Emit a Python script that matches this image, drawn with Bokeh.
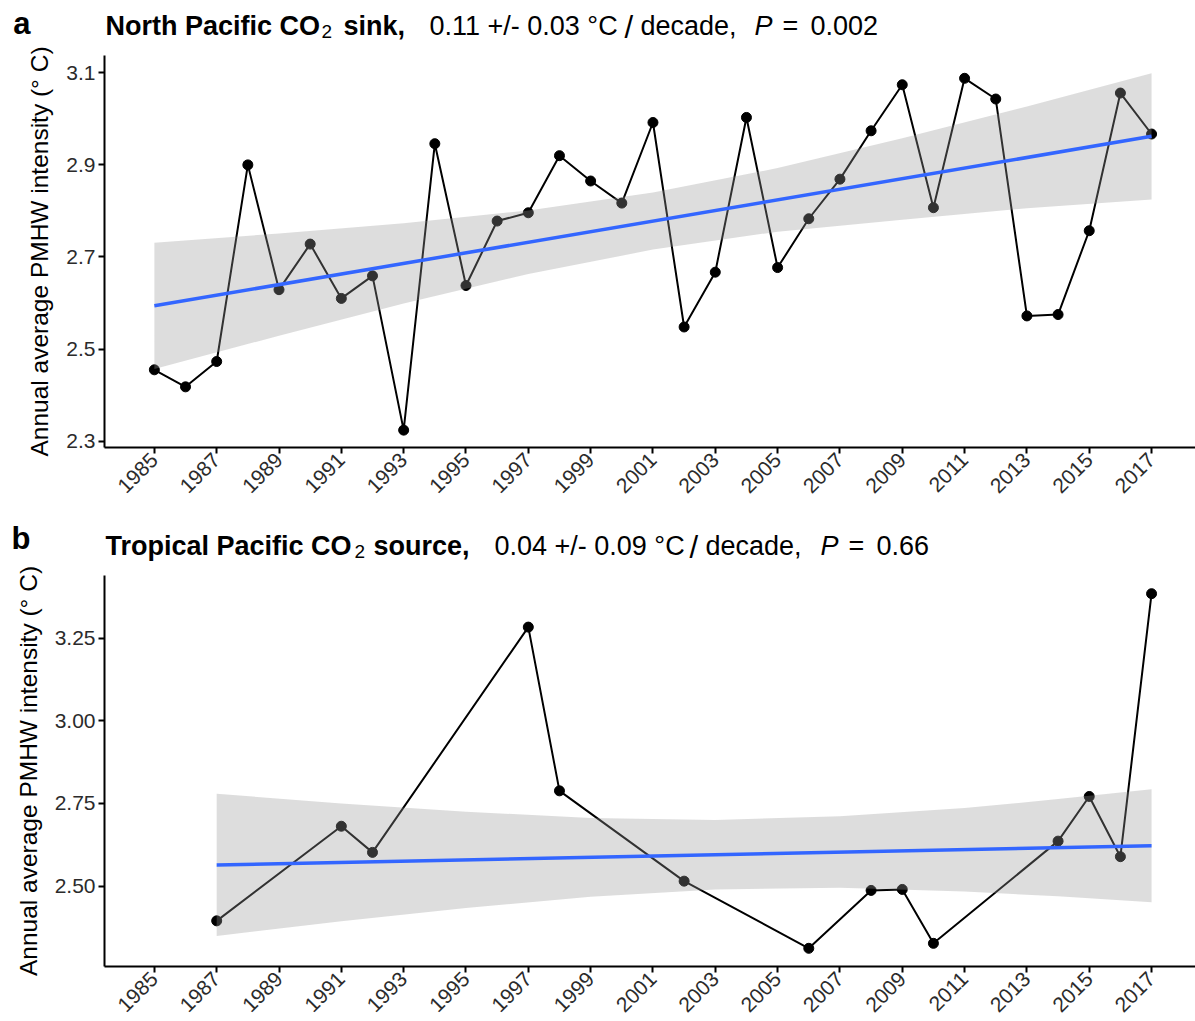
import math
from bokeh.plotting import figure
from bokeh.layouts import column
from bokeh.models import Range1d, FixedTicker, Label
from bokeh.embed import file_html
from bokeh.resources import INLINE

# ---------------- data ----------------
years_a = list(range(1985, 2018))
vals_a = [2.455, 2.418, 2.473, 2.900, 2.629, 2.728, 2.610, 2.659, 2.324, 2.946,
          2.638, 2.778, 2.796, 2.920, 2.865, 2.817, 2.992, 2.548, 2.667, 3.003,
          2.677, 2.783, 2.869, 2.974, 3.074, 2.807, 3.088, 3.043, 2.572, 2.575,
          2.757, 3.056, 2.967]
fit_years_a = [1985, 2017]
fit_vals_a = [2.594, 2.962]
band_years_a = [1985, 1989, 1993, 1997, 2001, 2005, 2009, 2013, 2017]
band_upper_a = [2.731, 2.751, 2.773, 2.801, 2.840, 2.893, 2.958, 3.027, 3.099]
band_lower_a = [2.457, 2.529, 2.599, 2.663, 2.716, 2.755, 2.781, 2.806, 2.825]

years_b = [1987, 1991, 1992, 1997, 1998, 2002, 2006, 2008, 2009, 2010, 2014, 2015, 2016, 2017]
vals_b = [2.395, 2.681, 2.602, 3.283, 2.788, 2.515, 2.312, 2.487, 2.490, 2.327,
          2.636, 2.771, 2.589, 3.384]
fit_years_b = [1987, 2017]
fit_vals_b = [2.564, 2.622]
band_years_b = [1987, 1991, 1995, 1999, 2003, 2007, 2011, 2014, 2017]
band_upper_b = [2.779, 2.750, 2.725, 2.706, 2.700, 2.711, 2.736, 2.763, 2.793]
band_lower_b = [2.349, 2.394, 2.434, 2.468, 2.490, 2.495, 2.484, 2.469, 2.451]

x_ticks = list(range(1985, 2018, 2))
y_ticks_a = [2.3, 2.5, 2.7, 2.9, 3.1]
y_tick_labels_a = ["2.3", "2.5", "2.7", "2.9", "3.1"]
y_ticks_b = [2.50, 2.75, 3.00, 3.25]
y_tick_labels_b = ["2.50", "2.75", "3.00", "3.25"]

ylab = "Annual average PMHW intensity (\u00b0 C)"

letter_a = "a"
title_a = ["North Pacific CO", "2", "sink,", "0.11 +/- 0.03 \u00b0C", "/", "decade,", "P", "=", "0.002"]
letter_b = "b"
title_b = ["Tropical Pacific CO", "2", "source,", "0.04 +/- 0.09 \u00b0C", "/", "decade,", "P", "=", "0.66"]

FONT = "Liberation Sans"
W = 1195
LEFT = 104

# (font style, size, vertical shift) for each title piece
STYLES = [("bold", "27px", 0), ("normal", "19px", 6), ("bold", "27px", 0),
          ("normal", "27px", 0), ("normal", "31px", 2), ("normal", "27px", 0),
          ("italic", "27px", 0), ("normal", "27px", 0), ("normal", "27px", 0)]


def make_title(height, baseline, letter, pieces, xs):
    t = figure(width=W, height=height, output_backend="svg", toolbar_location=None,
               x_range=Range1d(LEFT, W), y_range=Range1d(height, 0),
               min_border_left=LEFT, min_border_right=0,
               min_border_top=0, min_border_bottom=0,
               x_axis_type=None)
    t.outline_line_color = None
    t.grid.visible = False
    ya = t.yaxis[0]
    ya.ticker = FixedTicker(ticks=[])
    ya.axis_line_color = None
    ya.major_tick_line_color = None
    ya.minor_tick_line_color = None
    ya.major_label_text_font_size = "0px"
    ya.axis_label = letter
    ya.axis_label_orientation = "horizontal"
    ya.axis_label_text_font = FONT
    ya.axis_label_text_font_size = "31px"
    ya.axis_label_text_font_style = "bold"
    ya.axis_label_text_color = "black"
    ya.axis_label_standoff = 74

    for txt, x, (st, sz, dy) in zip(pieces, xs, STYLES):
        t.add_layout(Label(x=x, y=baseline + dy, text=txt, text_font=FONT,
                           text_font_size=sz, text_font_style=st, text_color="black",
                           text_align="left", text_baseline="alphabetic"))
    return t


def make_panel(height, border_top, border_bottom, yr, yticks, ylabels,
               xs, ys, fx, fy, bx, bu, bl):
    p = figure(width=W, height=height, output_backend="svg", toolbar_location=None,
               x_range=Range1d(1983.4, 2018.41), y_range=Range1d(*yr),
               min_border_left=LEFT, min_border_right=0,
               min_border_top=border_top, min_border_bottom=border_bottom)
    p.outline_line_color = None
    p.grid.visible = False

    for ax in (p.xaxis[0], p.yaxis[0]):
        ax.axis_line_color = "black"
        ax.axis_line_width = 2
        ax.major_tick_line_color = "black"
        ax.major_tick_line_width = 2
        ax.major_tick_out = 6
        ax.major_tick_in = 0
        ax.minor_tick_line_color = None
        ax.major_label_text_font = FONT
        ax.major_label_text_font_size = "21px"
        ax.major_label_text_color = "#2b2b2b"
        ax.major_label_standoff = 3

    p.xaxis.ticker = FixedTicker(ticks=x_ticks)
    p.xaxis.major_label_overrides = {t: str(t) for t in x_ticks}
    p.xaxis.major_label_orientation = math.pi / 4

    p.yaxis.ticker = FixedTicker(ticks=yticks)
    p.yaxis.major_label_overrides = {t: l for t, l in zip(yticks, ylabels)}
    p.yaxis.axis_label = ylab
    p.yaxis.axis_label_text_font = FONT
    p.yaxis.axis_label_text_font_size = "24.5px"
    p.yaxis.axis_label_text_font_style = "normal"
    p.yaxis.axis_label_text_color = "black"
    p.yaxis.axis_label_standoff = 10

    p.line(xs, ys, line_color="black", line_width=2)
    p.scatter(xs, ys, size=10, fill_color="black", line_color="black")
    p.varea(x=bx, y1=bl, y2=bu, fill_color="#999999", fill_alpha=0.33)
    p.line(fx, fy, line_color="#3366FF", line_width=3.5)
    return p


ta = make_title(46, 25, letter_a, title_a, [105, 321, 343, 429, 624, 640, 754, 782, 810])
pa = make_panel(464, 9, 63, (2.2863, 3.1375), y_ticks_a, y_tick_labels_a,
                years_a, vals_a, fit_years_a, fit_vals_a,
                band_years_a, band_upper_a, band_lower_a)
tb = make_title(56, 35, letter_b, title_b, [105, 354, 373, 494, 689, 705, 820, 848, 876])
pb = make_panel(455, 9, 54, (2.257, 3.439), y_ticks_b, y_tick_labels_b,
                years_b, vals_b, fit_years_b, fit_vals_b,
                band_years_b, band_upper_b, band_lower_b)

layout = column(ta, pa, tb, pb, spacing=0)
open("out.html", "w").write(file_html(layout, INLINE))
